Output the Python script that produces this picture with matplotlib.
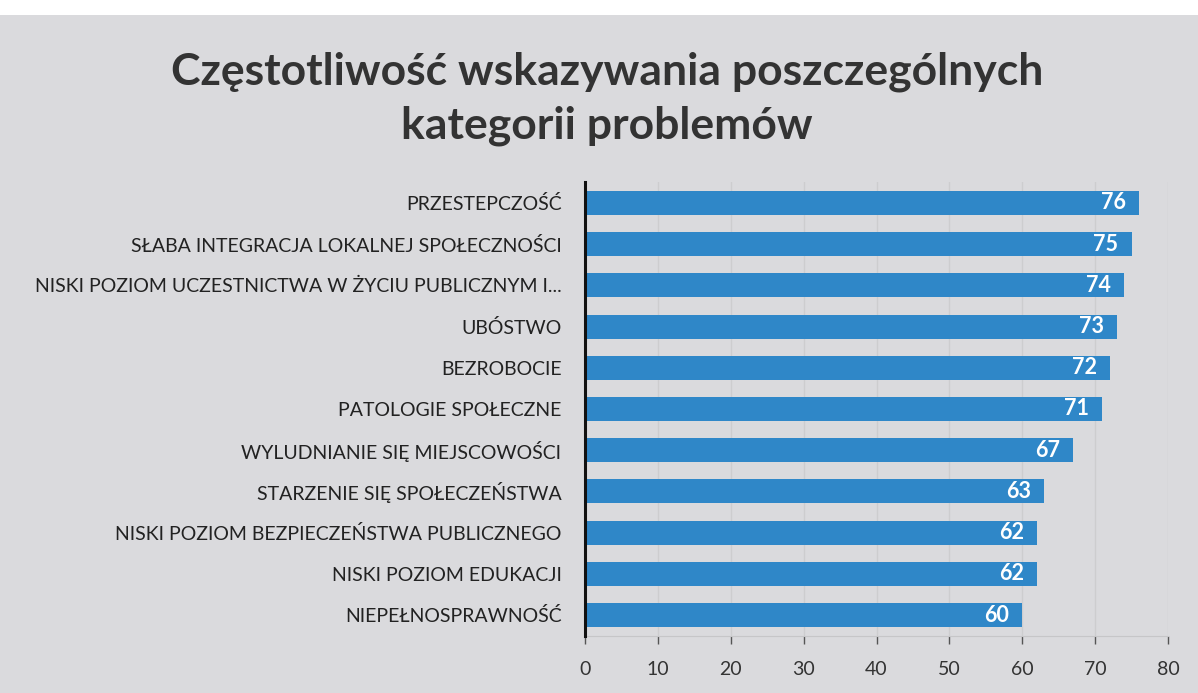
import matplotlib
matplotlib.use("Agg")
import matplotlib.pyplot as plt
import numpy as np

categories = [
    "PRZESTEPCZOŚĆ",
    "SŁABA INTEGRACJA LOKALNEJ SPOŁECZNOŚCI",
    "NISKI POZIOM UCZESTNICTWA W ŻYCIU PUBLICZNYM I...",
    "UBÓSTWO",
    "BEZROBOCIE",
    "PATOLOGIE SPOŁECZNE",
    "WYLUDNIANIE SIĘ MIEJSCOWOŚCI",
    "STARZENIE SIĘ SPOŁECZEŃSTWA",
    "NISKI POZIOM BEZPIECZEŃSTWA PUBLICZNEGO",
    "NISKI POZIOM EDUKACJI",
    "NIEPEŁNOSPRAWNOŚĆ",
]
values = [76, 75, 74, 73, 72, 71, 67, 63, 62, 62, 60]
xticks = [0, 10, 20, 30, 40, 50, 60, 70, 80]
title = "Częstotliwość wskazywania poszczególnych\nkategorii problemów"

plt.rcParams['font.family'] = ['Lato', 'DejaVu Sans']

W, H = 1198, 693
fig = plt.figure(figsize=(W / 100, H / 100), dpi=100)
bg = "#dadadd"
fig.patch.set_facecolor(bg)
# white strip at top of photo
fig.patches.append(plt.Rectangle((0, 1 - 15 / H), 1, 15 / H, transform=fig.transFigure,
                                 facecolor="white", edgecolor="none", zorder=0))

ax = fig.add_axes([585 / W, 1 - 635.6 / H, (1168 - 585) / W, (635.6 - 182.4) / H])
ax.set_facecolor(bg)

y = np.arange(len(categories))
ax.barh(y, values, height=0.58, color="#2f87c8", zorder=3)
ax.set_ylim(len(categories) - 0.5, -0.5)
ax.set_xlim(0, 80)
ax.set_yticks(y)
ax.set_yticklabels(categories, fontsize=14, color="#222222")
ax.tick_params(axis='y', length=0, pad=17)
ax.set_xticks(xticks)
ax.set_xticklabels([str(t) for t in xticks], fontsize=14, color="#333333")
ax.tick_params(axis='x', length=6, width=1, color="#555555", pad=12, direction='out')

ax.xaxis.grid(True, color="#cdcdcf", linewidth=1, zorder=0)
for s in ["top", "right"]:
    ax.spines[s].set_visible(False)
ax.spines["bottom"].set_color("#c6c6c8")
ax.spines["left"].set_color("#111111")
ax.spines["left"].set_linewidth(2.2)
ax.spines["left"].set_zorder(5)

for yi, v in zip(y, values):
    ax.text(v - 1.8, yi, str(v), ha="right", va="center", color="white",
            fontsize=15.5, fontweight="bold", zorder=4)

fig.text(607 / W, 1 - 99 / H, title, ha="center", va="center", fontsize=32,
         fontweight="bold", color="#333333", linespacing=1.4)

fig.savefig("out.png", dpi=100, facecolor=fig.get_facecolor())
